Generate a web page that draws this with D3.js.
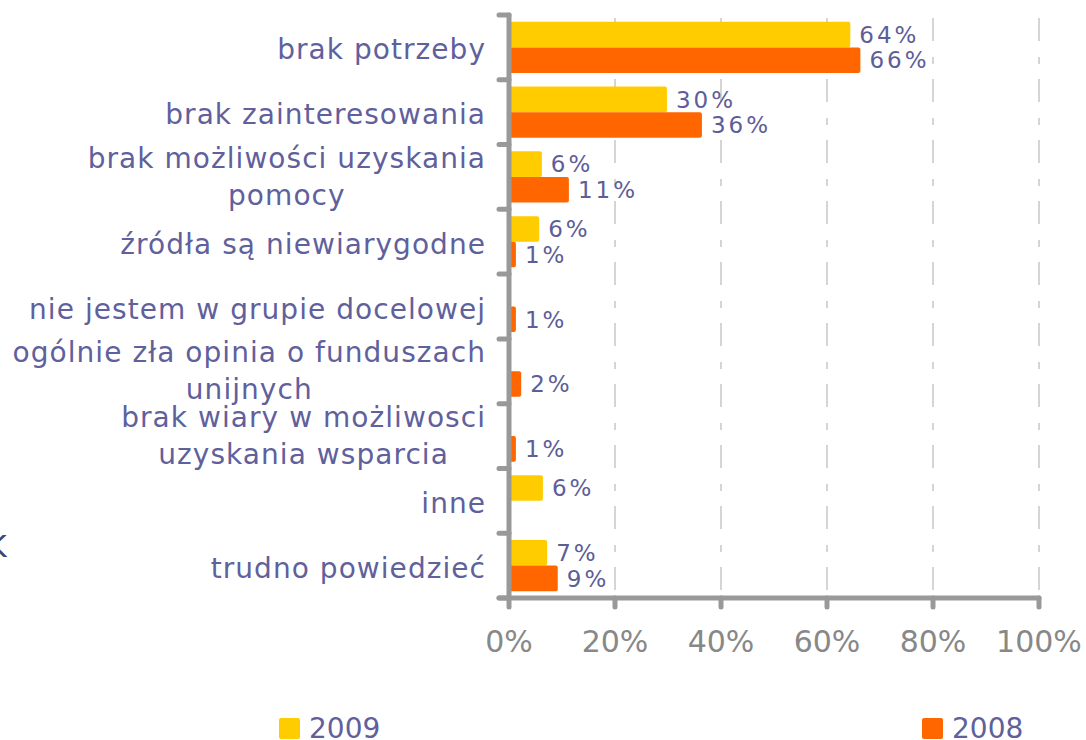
<!DOCTYPE html>
<html>
  <head>
    <meta http-equiv="Content-Type" content="text/html;charset=utf-8">
    <title>Powody</title>
    <script type="text/javascript" src="https://d3js.org/d3.v7.min.js"></script>
    <style>
      body {
        margin: 0;
        font-family: 'DejaVu Sans', Verdana, sans-serif;
        background: #fff;
      }
      .cat text {
        font-size: 28px;
        fill: #60609c;
        letter-spacing: 1.05px;
      }
      .val {
        font-size: 23px;
        fill: #5d5d98;
        letter-spacing: 3px;
      }
      .xlab {
        font-size: 30px;
        fill: #888;
      }
      .grid {
        stroke: #c8c8c8;
        stroke-width: 1.5px;
        stroke-dasharray: 23 16 7 15;
        stroke-dashoffset: 58;
      }
      .axis {
        stroke: #999;
        stroke-width: 5px;
        stroke-linecap: round;
        fill: none;
      }
      .leg {
        font-size: 28px;
        fill: #60609c;
      }
    </style>
  </head>
  <body>
    <div id="chart"></div>
    <script>
// kategorie (od góry), wartości w %
var categories = [
  "brak potrzeby",
  "brak zainteresowania",
  "brak możliwości uzyskania\npomocy",
  "źródła są niewiarygodne",
  "nie jestem w grupie docelowej",
  "ogólnie zła opinia o funduszach\nunijnych",
  "brak wiary w możliwosci\nuzyskania wsparcia",
  "inne",
  "trudno powiedzieć"
];
var series = ["2009", "2008"];
var values2009 = [64.4, 29.8, 6.2, 5.7, null, null, null, 6.4, 7.2];
var values2008 = [66.3, 36.4, 11.3, 1.3, 1.3, 2.3, 1.3, null, 9.2];
var xTicks = [0, 20, 40, 60, 80, 100];

var width = 1086,
    height = 740;
var colors = {"2009": "#ffcc00", "2008": "#ff6600"};

var svg = d3.select("#chart").append("svg")
    .attr("width", width)
    .attr("height", height);

var x = d3.scaleLinear().domain([0, 100]).range([509, 1039]);
var y = d3.scaleBand().domain(categories).range([15, 598])
    .paddingInner(0.21).paddingOuter(0.105);
var ySub = d3.scaleBand().domain(series).range([0, y.bandwidth()]);

var rows = categories.map(function(c, i) {
  return {cat: c, vals: [
    {s: "2009", v: values2009[i]},
    {s: "2008", v: values2008[i]}
  ]};
});

// siatka
svg.selectAll(".grid")
    .data(xTicks.slice(1))
  .enter().append("line")
    .attr("class", "grid")
    .attr("x1", function(d) { return x(d); })
    .attr("x2", function(d) { return x(d); })
    .attr("y1", 15)
    .attr("y2", 598);

// słupki
var g = svg.selectAll(".row")
    .data(rows)
  .enter().append("g")
    .attr("class", "row")
    .attr("transform", function(d) { return "translate(0," + y(d.cat) + ")"; });

var bars = g.selectAll(".b")
    .data(function(d) { return d.vals.filter(function(e) { return e.v != null; }); })
  .enter();

bars.append("rect")
    .attr("x", x(0))
    .attr("y", function(d) { return ySub(d.s); })
    .attr("width", function(d) { return x(d.v) - x(0); })
    .attr("height", ySub.bandwidth())
    .attr("rx", 2)
    .attr("fill", function(d) { return colors[d.s]; });

bars.append("text")
    .attr("class", "val")
    .attr("x", function(d) { return x(d.v) + 9; })
    .attr("y", function(d) { return ySub(d.s) + ySub.bandwidth() / 2; })
    .attr("dy", "0.36em")
    .text(function(d) { return Math.round(d.v) + "%"; });

// osie
var stepY = y.step();
var yLines = d3.range(categories.length + 1).map(function(i) { return 15 + i * stepY; });

svg.append("line").attr("class", "axis")
    .attr("x1", x(0)).attr("x2", x(0)).attr("y1", 15).attr("y2", 598);
svg.selectAll(".ytick")
    .data(yLines)
  .enter().append("line")
    .attr("class", "axis")
    .attr("x1", x(0) - 10).attr("x2", x(0))
    .attr("y1", function(d) { return d; })
    .attr("y2", function(d) { return d; });

svg.append("line").attr("class", "axis")
    .attr("x1", x(0) - 10).attr("x2", x(100)).attr("y1", 598).attr("y2", 598);
svg.selectAll(".xtick")
    .data(xTicks)
  .enter().append("line")
    .attr("class", "axis")
    .attr("x1", function(d) { return x(d); })
    .attr("x2", function(d) { return x(d); })
    .attr("y1", 598).attr("y2", 607);

svg.selectAll(".xlab")
    .data(xTicks)
  .enter().append("text")
    .attr("class", "xlab")
    .attr("x", function(d) { return x(d); })
    .attr("y", 652)
    .attr("text-anchor", "middle")
    .text(function(d) { return d + "%"; });

// etykiety kategorii
var cat = svg.selectAll(".cat")
    .data(categories)
  .enter().append("g")
    .attr("class", "cat");

cat.each(function(d) {
  var lines = d.split("\n");
  var cy = y(d) + y.bandwidth() / 2;
  var t = d3.select(this).append("text")
      .attr("text-anchor", "middle");
  var base = lines.length > 1 ? cy - 9 : cy + 12;
  lines.forEach(function(l, i) {
    t.append("tspan").attr("x", 0).attr("y", base + i * 37).text(l);
  });
  var w = t.node().getBBox().width;
  t.attr("transform", "translate(" + (486 - w / 2) + ",0)");
});

// ucięty znak przy lewej krawędzi
svg.append("text")
    .attr("x", -13)
    .attr("y", 557)
    .attr("font-size", 30)
    .attr("fill", "#3f4868")
    .text("K");

// legenda
var legend = [{s: "2009", x: 279}, {s: "2008", x: 922}];
var lg = svg.selectAll(".lg")
    .data(legend)
  .enter().append("g")
    .attr("transform", function(d) { return "translate(" + d.x + ",718)"; });
lg.append("rect")
    .attr("width", 21).attr("height", 21).attr("rx", 2)
    .attr("fill", function(d) { return colors[d.s]; });
lg.append("text")
    .attr("class", "leg")
    .attr("x", 30)
    .attr("y", 20)
    .text(function(d) { return d.s; });
    </script>
  </body>
</html>
